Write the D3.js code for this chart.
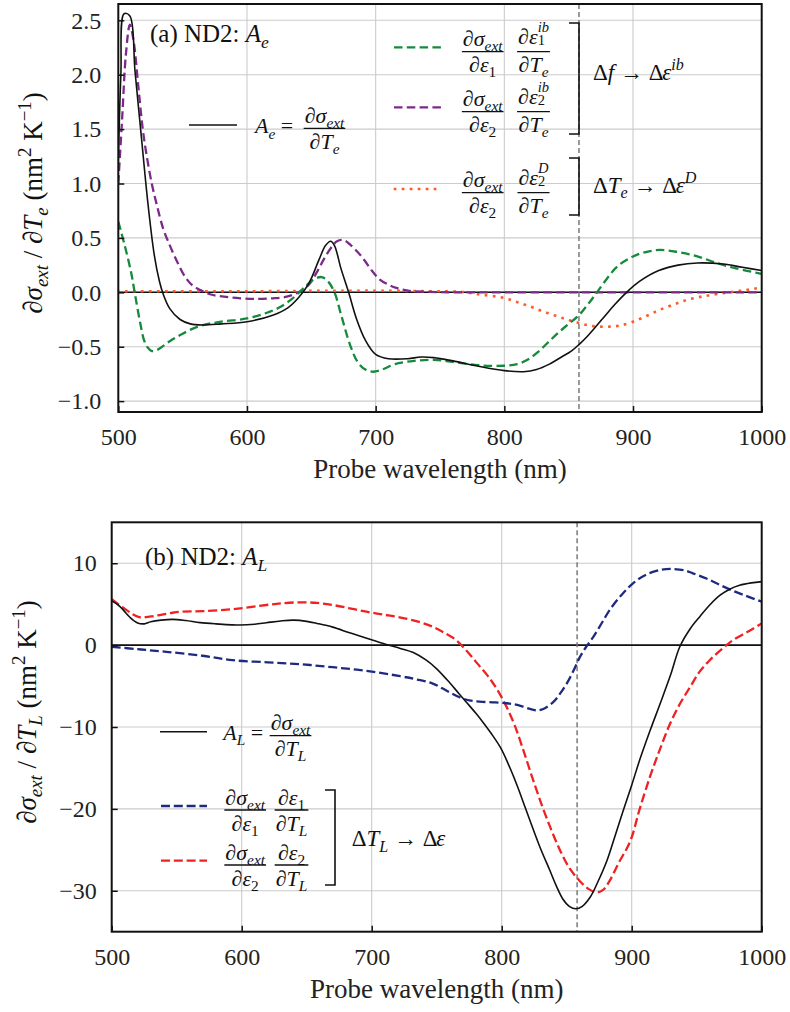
<!DOCTYPE html>
<html><head><meta charset="utf-8">
<script src="https://cdn.jsdelivr.net/npm/d3@7"></script>
<style>
body{margin:0;background:#fff;}
svg{display:block;font-family:"Liberation Serif","Times New Roman",serif;}
svg text{white-space:pre;}
</style>
</head><body>
<svg id="c" width="790" height="1012"></svg>
<script>
// ---------------- DATA ----------------
const xTickValues = [500, 600, 700, 800, 900, 1000];
const yTicksA = [-1.0, -0.5, 0.0, 0.5, 1.0, 1.5, 2.0, 2.5];
const yTicksB = [-30, -20, -10, 0, 10];
const markerWavelength = 858;

// Panel (a): A_e (black)
const aeWl  = [500,502,504.5,509,513,518,523,528,532,535,540,548,556,565,580,600,620,632,640,648,656,661,665,668,673,679,685,692,700,710,725,735,745,760,780,800,815,825,835,845,852,858,864,870,878,886,895,905,920,935,950,970,985,1000];
const aeVal = [1.2,2.0,2.56,2.54,2.03,1.42,0.82,0.34,0.1,-0.02,-0.15,-0.25,-0.29,-0.30,-0.29,-0.27,-0.21,-0.14,-0.05,0.08,0.3,0.43,0.47,0.43,0.22,0.0,-0.24,-0.44,-0.57,-0.61,-0.61,-0.595,-0.60,-0.63,-0.68,-0.72,-0.73,-0.71,-0.66,-0.59,-0.54,-0.48,-0.41,-0.33,-0.22,-0.11,0.0,0.1,0.2,0.25,0.27,0.26,0.23,0.2];
// Panel (a): eps1^ib term (green dashed)
const ib1Wl  = [500,505,510,513,517,520,523,526,530,540,550,563,580,600,615,625,635,645,652,658,663,668,673,680,686,692,698,705,715,730,745,760,780,800,810,818,826,834,842,850,858,865,872,880,888,900,910,921,935,950,965,980,1000];
const ib1Val = [0.65,0.43,0.18,-0.02,-0.28,-0.44,-0.51,-0.54,-0.53,-0.45,-0.38,-0.31,-0.27,-0.24,-0.19,-0.14,-0.06,0.05,0.12,0.14,0.1,0.0,-0.2,-0.48,-0.64,-0.71,-0.73,-0.71,-0.66,-0.63,-0.62,-0.64,-0.67,-0.675,-0.66,-0.62,-0.55,-0.46,-0.37,-0.29,-0.21,-0.11,0.0,0.13,0.24,0.33,0.37,0.39,0.37,0.33,0.27,0.22,0.17];
// Panel (a): eps2^ib term (purple dashed)
const ib2Wl  = [500,503,506,509,512,515.5,519,522,526,530,535,539,545,552,558,564,572,582,595,608,620,631,640,648,655,660,666,670,675,680,686,691,697,703,710,716,725,740,760,800,850,900,950,1000];
const ib2Val = [1.0,1.6,2.2,2.46,2.3,1.9,1.5,1.26,1.0,0.8,0.58,0.46,0.3,0.14,0.06,0.02,-0.02,-0.04,-0.055,-0.06,-0.055,-0.04,0.0,0.07,0.2,0.31,0.42,0.47,0.48,0.44,0.37,0.3,0.2,0.12,0.07,0.04,0.015,0.005,0.0,0.0,0.0,0.0,0.0,0.0];
// Panel (a): eps2^D term (orange dotted)
const dWl  = [500,600,700,740,766,781,799,810,820,830,841,850,859,866,874,882,890,900,910,921,932,942,953,963,978,990,1000];
const dVal = [0.01,0.01,0.015,0.01,0.005,-0.02,-0.05,-0.09,-0.13,-0.175,-0.22,-0.255,-0.285,-0.305,-0.315,-0.315,-0.305,-0.27,-0.22,-0.16,-0.11,-0.07,-0.04,-0.02,0.005,0.025,0.045];

// Panel (b): A_L (black)
const alWl  = [500,505,509,514,520,525,530,538,547,557,568,580,599,610,619,630,640,650,658,670,683,692,701,712,722,732,742,750,760,767,773,780,786,792,799,805,812,818,824,830,837,842,847,852,857,862,868,874,881,887,893.5,900,906,914,922,930,937,945,952.5,960,968,975,983,992,1000];
const alVal = [5.4,4.9,4.28,3.4,2.7,2.6,2.85,3.05,3.15,3.0,2.75,2.6,2.45,2.55,2.73,2.95,3.05,2.9,2.65,2.2,1.5,1.05,0.6,0.05,-0.4,-0.9,-1.84,-2.9,-4.6,-5.9,-7.0,-8.3,-9.5,-10.8,-12.5,-14.5,-17.2,-19.8,-22.4,-24.9,-27.5,-29.4,-31,-31.9,-32.2,-31.9,-30.8,-28.9,-26.3,-23.4,-20.2,-17.1,-14.1,-10.5,-7.1,-3.6,-0.2,2.0,3.5,4.9,6.1,6.8,7.3,7.6,7.75];
// Panel (b): eps1 term (navy dashed)
const l1Wl  = [500,520,542,570,593,620,645,670,696,722,735,747,758,768,775,783,795,804,810,817,823,827,832,840,845,850,855,860,865,870.5,877,883,892,901,911,922,930,940,947,958,968,980,990,1000];
const l1Val = [-0.2,-0.5,-0.82,-1.3,-1.84,-2.1,-2.33,-2.7,-3.14,-3.8,-4.2,-4.7,-5.6,-6.4,-6.75,-6.9,-7.0,-7.1,-7.25,-7.55,-7.85,-7.96,-7.8,-6.9,-5.9,-4.7,-3.2,-1.5,-0.2,1.02,2.7,4.28,6.1,7.55,8.6,9.18,9.3,9.15,8.77,8.1,7.34,6.5,5.9,5.3];
// Panel (b): eps2 term (red dashed)
const l2Wl  = [500,505,511.5,517,522,530,537,545,552.5,570,593.5,619,630,645,658,670,683,696,708,720,735,747,756,765,773,781,789,796,803,810,817,824,831,838,845,852,860,867,873,878,883,890,899,906,914,922,929.5,937,945,952,960,970,978,990,1000];
const l2Val = [5.6,5.0,4.28,3.7,3.4,3.5,3.67,3.9,4.08,4.15,4.4,4.9,5.1,5.23,5.15,4.9,4.5,4.08,3.75,3.45,2.9,2.24,1.5,0.61,-0.7,-2.2,-3.7,-5.3,-7.3,-9.8,-13.0,-16.4,-19.6,-22.5,-25.1,-27.2,-28.8,-29.8,-30.2,-29.9,-28.8,-26.6,-23.9,-20.1,-16.1,-12.6,-9.6,-7.2,-5.1,-3.3,-1.84,-0.4,0.61,1.7,2.65];

// ---------------- STYLE ----------------
const FONT = '"Liberation Serif","Times New Roman",serif';
const COL = {black:'#111', green:'#158a3c', purple:'#7b2a8a', orange:'#ff5a28', navy:'#1e2a80', red:'#ee2222'};

const svg = d3.select('#c');

// ---------------- MATH TEXT HELPERS ----------------
// tk(text, italic, script('sub'|'sup'), stacked-with-previous-script)
function tk(t, i, s, stack){ return {t, i:!!i, s, stack:!!stack}; }
function measure(t, fs, italic){
  const el = svg.append('text').attr('font-size',fs).attr('font-family',FONT)
    .style('font-style',italic?'italic':'normal').text(t);
  const w = el.node().getComputedTextLength();
  el.remove();
  return w;
}
function mathText(parent, tokens, size, fill){
  const g = parent.append('g');
  const text = g.append('text').attr('font-family',FONT).attr('fill',fill||'#111');
  let cx = 0, scriptX = 0;
  tokens.forEach((k, idx) => {
    const nextStacked = tokens[idx+1] && tokens[idx+1].stack;
    const stackedPair = k.stack || (k.s && nextStacked);
    const fs = k.s ? size*(stackedPair ? 0.66 : 0.7) : size;
    let dy = k.s==='sub' ? size*0.24 : (k.s==='sup' ? -size*0.42 : 0);
    if (stackedPair) dy = k.s==='sub' ? size*0.04 : -size*0.53;
    const px = k.stack ? scriptX : cx;
    const w = measure(k.t, fs, k.i);
    text.append('tspan').attr('x',px).attr('y',dy).attr('font-size',fs)
      .style('font-style',k.i?'italic':'normal').text(k.t);
    if (k.s && !k.stack) scriptX = cx;
    cx = k.stack ? Math.max(cx, px+w) : px+w;
  });
  return {g, w:cx};
}
function placeMath(parent, tokens, x, y, size, anchor){
  const m = mathText(parent, tokens, size);
  const dx = anchor==='middle' ? x - m.w/2 : x;
  m.g.attr('transform',`translate(${dx},${y})`);
  return m;
}
function frac(parent, num, den, cx, barY, size, numLift){
  const n = placeMath(parent, num, cx, barY-(numLift||5.5), size, 'middle');
  const d = placeMath(parent, den, cx, barY+20.5, size, 'middle');
  const w = Math.max(n.w, d.w) + 2;
  parent.append('line').attr('x1',cx-w/2).attr('x2',cx+w/2).attr('y1',barY).attr('y2',barY)
    .attr('stroke','#111').attr('stroke-width',1.3);
}
function bracket(parent, x, yTop, yBot, len){
  parent.append('path').attr('d',`M${x-len},${yTop}H${x}V${yBot}H${x-len}`)
    .attr('fill','none').attr('stroke','#111').attr('stroke-width',1.6);
}

// token sets
const dSigExt = [tk('∂'),tk('σ',1),tk('ext',1,'sub')];
const dEps = n => [tk('∂'),tk('ε',1),tk(n,0,'sub')];
const dT = s => [tk('∂'),tk('T',1),tk(s,1,'sub')];

// ---------------- PANEL DRAWING ----------------
let clipN = 0;
function drawPanel(x, y, yTicks, fmt, series, yPad){
  const [x0,x1] = x.range();
  const [yb,yt] = y.range();
  const g = svg.append('g');
  const id = 'clip'+(clipN++);
  g.append('clipPath').attr('id',id).append('rect').attr('x',x0).attr('y',yt).attr('width',x1-x0).attr('height',yb-yt);
  // grid
  g.append('g').selectAll('line').data(xTickValues.slice(1,-1)).join('line')
    .attr('x1',d=>x(d)).attr('x2',d=>x(d)).attr('y1',yt).attr('y2',yb)
    .attr('stroke','#cbcbcb').attr('stroke-width',1.1);
  g.append('g').selectAll('line').data(yTicks).join('line')
    .attr('x1',x0).attr('x2',x1).attr('y1',d=>y(d)).attr('y2',d=>y(d))
    .attr('stroke','#cbcbcb').attr('stroke-width',1.1);
  // zero line
  g.append('line').attr('x1',x0).attr('x2',x1).attr('y1',y(0)).attr('y2',y(0))
    .attr('stroke','#111').attr('stroke-width',1.6);
  // marker line
  g.append('line').attr('x1',x(markerWavelength)).attr('x2',x(markerWavelength)).attr('y1',yt).attr('y2',yb)
    .attr('stroke','#7a7a7a').attr('stroke-width',1.5).attr('stroke-dasharray','5,3');
  // curves
  const cg = g.append('g').attr('clip-path',`url(#${id})`);
  for (const s of series){
    const pts = s.wl.map((w,i)=>[w, s.val[i]]);
    const line = d3.line().x(d=>x(d[0])).y(d=>y(d[1])).curve(d3.curveCatmullRom.alpha(0.5));
    cg.append('path').attr('d',line(pts)).attr('fill','none').attr('stroke',s.color)
      .attr('stroke-width',s.width).attr('stroke-dasharray',s.dash||null)
      .attr('stroke-linecap',s.cap||'butt');
  }
  // axes
  const ax = d3.axisBottom(x).tickValues(xTickValues).tickFormat(d3.format('d')).tickSizeInner(-6).tickSizeOuter(0).tickPadding(16);
  g.append('g').attr('transform',`translate(0,${yb})`).call(ax)
    .call(s=>s.select('.domain').remove())
    .attr('font-size',24).attr('font-family',FONT)
    .call(s=>s.selectAll('text').attr('fill','#222'))
    .call(s=>s.selectAll('line').attr('stroke','#111').attr('stroke-width',1.5));
  const ay = d3.axisLeft(y).tickValues(yTicks).tickFormat(fmt).tickSizeInner(-6).tickSizeOuter(0).tickPadding(yPad);
  g.append('g').attr('transform',`translate(${x0},0)`).call(ay)
    .call(s=>s.select('.domain').remove())
    .attr('font-size',24).attr('font-family',FONT)
    .call(s=>s.selectAll('text').attr('fill','#222'))
    .call(s=>s.selectAll('line').attr('stroke','#111').attr('stroke-width',1.5));
  // frame
  g.append('rect').attr('x',x0).attr('y',yt).attr('width',x1-x0).attr('height',yb-yt)
    .attr('fill','none').attr('stroke','#111').attr('stroke-width',2);
  // x label
  g.append('text').attr('x',(x0+x1)/2).attr('y',yb+66).attr('text-anchor','middle')
    .attr('font-size',27).attr('font-family',FONT).attr('fill','#222').text('Probe wavelength (nm)');
  return g;
}

// ---------------- PANEL (a) ----------------
const xA = d3.scaleLinear().domain([500,1000]).range([118.3,761.7]);
const yA = d3.scaleLinear().domain([-1.1,2.65]).range([412,4]);
drawPanel(xA, yA, yTicksA, d3.format('.1f'), [
  {wl:dWl, val:dVal, color:COL.orange, width:2.6, dash:'0.1,7.9', cap:'square'},
  {wl:ib2Wl, val:ib2Val, color:COL.purple, width:2.3, dash:'8.5,4.3'},
  {wl:ib1Wl, val:ib1Val, color:COL.green, width:2.3, dash:'8.5,4.3'},
  {wl:aeWl, val:aeVal, color:COL.black, width:1.6}
], 17);

// y label (a)
{
  const lg = svg.append('g').attr('transform','translate(42,203) rotate(-90)');
  placeMath(lg, [tk('∂'),tk('σ',1),tk('ext',1,'sub'),tk(' / ∂'),tk('T',1),tk('e',1,'sub'),tk(' (nm'),tk('2',0,'sup'),tk(' K'),tk('−1',0,'sup'),tk(')')], 0, 0, 27, 'middle');
}
// title (a)
placeMath(svg, [tk('(a) ND2: '),tk('A',1),tk('e',1,'sub')], 150, 42, 25);

// legend (a)
{
  const L = svg.append('g');
  const ms = 22;
  // black
  L.append('line').attr('x1',189).attr('x2',237).attr('y1',125).attr('y2',125).attr('stroke',COL.black).attr('stroke-width',1.6);
  placeMath(L, [tk('A',1),tk('e',1,'sub'),tk(' =')], 255, 133.3, ms);
  frac(L, dSigExt, dT('e'), 324.5, 128.3, ms);
  // green
  L.append('line').attr('x1',394).attr('x2',442).attr('y1',47.3).attr('y2',47.3).attr('stroke',COL.green).attr('stroke-width',2.3).attr('stroke-dasharray','8.5,4.3');
  frac(L, dSigExt, dEps('1'), 482.7, 51.7, ms);
  frac(L, [tk('∂'),tk('ε',1),tk('ib',1,'sup'),tk('1',0,'sub',true)], dT('e'), 533.5, 51.7, ms, 8);
  // purple
  L.append('line').attr('x1',394).attr('x2',442).attr('y1',107.3).attr('y2',107.3).attr('stroke',COL.purple).attr('stroke-width',2.3).attr('stroke-dasharray','8.5,4.3');
  frac(L, dSigExt, dEps('2'), 482.7, 111.7, ms);
  frac(L, [tk('∂'),tk('ε',1),tk('ib',1,'sup'),tk('2',0,'sub',true)], dT('e'), 533.5, 111.7, ms, 8);
  // orange
  L.append('line').attr('x1',395).attr('x2',438).attr('y1',189).attr('y2',189).attr('stroke',COL.orange).attr('stroke-width',2.6).attr('stroke-dasharray','0.1,7.9').attr('stroke-linecap','square');
  frac(L, dSigExt, dEps('2'), 482.7, 192.7, ms);
  frac(L, [tk('∂'),tk('ε',1),tk('D',1,'sup'),tk('2',0,'sub',true)], dT('e'), 533.5, 192.7, ms, 8);
  // brackets
  bracket(L, 579, 23, 134, 10);
  bracket(L, 579, 158, 215, 10);
  placeMath(L, [tk('Δ'),tk('f',1),tk(' → Δ'),tk('ε',1),tk('ib',1,'sup')], 593, 80, 23);
  placeMath(L, [tk('Δ'),tk('T',1),tk('e',1,'sub'),tk(' → Δ'),tk('ε',1),tk('D',1,'sup')], 593, 192.7, 23);
}

// ---------------- PANEL (b) ----------------
const xB = d3.scaleLinear().domain([500,1000]).range([111.7,761.7]);
const yB = d3.scaleLinear().domain([-35,15]).range([931.7,522.3]);
drawPanel(xB, yB, yTicksB, d3.format('d'), [
  {wl:l2Wl, val:l2Val, color:COL.red, width:2.3, dash:'9,3.8'},
  {wl:l1Wl, val:l1Val, color:COL.navy, width:2.3, dash:'9,3.8'},
  {wl:alWl, val:alVal, color:COL.black, width:1.6}
], 15);

{
  const lg = svg.append('g').attr('transform','translate(36,712) rotate(-90)');
  placeMath(lg, [tk('∂'),tk('σ',1),tk('ext',1,'sub'),tk(' / ∂'),tk('T',1),tk('L',1,'sub'),tk(' (nm'),tk('2',0,'sup'),tk(' K'),tk('−1',0,'sup'),tk(')')], 0, 0, 27, 'middle');
}
placeMath(svg, [tk('(b) ND2: '),tk('A',1),tk('L',1,'sub')], 145, 565, 25);

{
  const L = svg.append('g');
  const ms = 22;
  L.append('line').attr('x1',160).attr('x2',207).attr('y1',731.7).attr('y2',731.7).attr('stroke',COL.black).attr('stroke-width',1.6);
  placeMath(L, [tk('A',1),tk('L',1,'sub'),tk(' =')], 223.3, 740, ms);
  frac(L, dSigExt, dT('L'), 290.5, 735.7, ms);
  L.append('line').attr('x1',161).attr('x2',207).attr('y1',806).attr('y2',806).attr('stroke',COL.navy).attr('stroke-width',2.3).attr('stroke-dasharray','9,3.8');
  frac(L, dSigExt, dEps('1'), 245.2, 810, ms);
  frac(L, dEps('1'), dT('L'), 291.5, 810, ms);
  L.append('line').attr('x1',161).attr('x2',207).attr('y1',860.7).attr('y2',860.7).attr('stroke',COL.red).attr('stroke-width',2.3).attr('stroke-dasharray','9,3.8');
  frac(L, dSigExt, dEps('2'), 245.2, 865, ms);
  frac(L, dEps('2'), dT('L'), 291.5, 865, ms);
  bracket(L, 335, 790, 885, 10);
  placeMath(L, [tk('Δ'),tk('T',1),tk('L',1,'sub'),tk(' → Δ'),tk('ε',1)], 351.7, 846, 23);
}
</script>
</body></html>
